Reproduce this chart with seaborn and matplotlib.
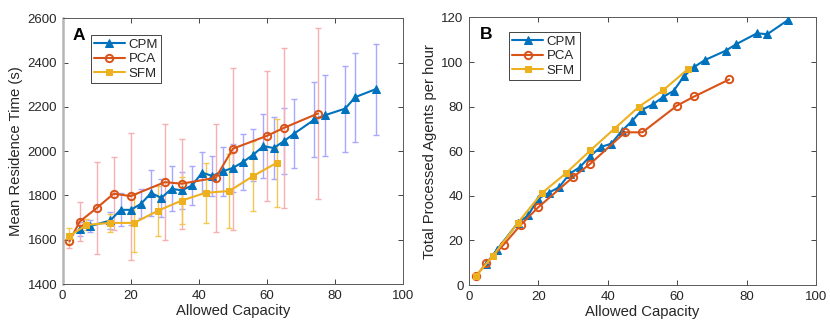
import numpy as np
import pandas as pd
import matplotlib
matplotlib.use("Agg")
import matplotlib.pyplot as plt
import seaborn as sns

# ---------------- data ----------------
cpm_x = [5, 8, 14, 17, 20, 23, 26, 29, 32, 35, 38, 41, 44, 47, 50, 53, 56, 59, 62, 65, 68, 74, 77, 83, 86, 92]
cpm_time = [1649, 1661, 1687, 1735, 1735, 1762, 1811, 1789, 1830, 1823, 1845, 1903, 1888, 1909, 1924,
            1951, 1984, 2023, 2014, 2045, 2079, 2143, 2162, 2192, 2244, 2280]
cpm_err = [30, 27, 40, 75, 70, 65, 104, 85, 102, 85, 88, 95, 92, 110, 108, 128, 118, 143, 140, 149,
           157, 170, 182, 194, 201, 205]
cpm_rate = [9.6, 15.7, 27.7, 31.2, 38.7, 41.4, 43.9, 49.9, 52.9, 57.9, 61.9, 63.4, 69.0, 73.6, 78.7,
            81.0, 84.4, 87.1, 93.7, 97.9, 100.9, 105.1, 108.0, 112.9, 112.5, 118.9]

pca_x = [2, 5, 10, 15, 20, 30, 35, 45, 50, 60, 65, 75]
pca_time = [1593, 1682, 1743, 1808, 1797, 1860, 1853, 1880, 2011, 2069, 2105, 2170]
pca_err = [32, 88, 206, 165, 287, 261, 204, 243, 366, 292, 360, 388]
pca_rate = [4.0, 9.7, 18.1, 27.1, 34.9, 48.4, 54.4, 68.5, 68.5, 80.5, 84.6, 92.2]

sfm_x = [2, 7, 14, 21, 28, 35, 42, 49, 56, 63]
sfm_time = [1617, 1667, 1676, 1676, 1731, 1777, 1812, 1820, 1888, 1948]
sfm_err = [38, 25, 40, 132, 112, 106, 136, 166, 157, 199]
sfm_rate = [4.0, 13.2, 27.7, 41.2, 50.2, 60.4, 70.2, 80.0, 87.4, 96.7]

series_names = ["CPM", "PCA", "SFM"]
xticks = [0, 20, 40, 60, 80, 100]
yticks_a = [1400, 1600, 1800, 2000, 2200, 2400, 2600]
yticks_b = [0, 20, 40, 60, 80, 100, 120]

# ---------------- style ----------------
sns.set_theme(style="ticks")
plt.rcParams["font.family"] = ["Liberation Sans", "DejaVu Sans"]
plt.rcParams["axes.edgecolor"] = "#262626"
plt.rcParams["xtick.color"] = "#262626"
plt.rcParams["ytick.color"] = "#262626"

c_cpm = "#0072BD"
c_pca = "#D95319"
c_sfm = "#EDB120"
e_cpm = "#a8a8ff"
e_pca = "#f7b0b0"
e_sfm = "#f2c850"

fig = plt.figure(figsize=(8.3, 3.33), dpi=100)
axA = fig.add_axes([0.0755, 0.1471, 0.410, 0.798])
axB = fig.add_axes([0.565, 0.1441, 0.418, 0.8034])


def style_axes(ax):
    ax.tick_params(direction="in", length=3.5, width=0.6, labelsize=9.5,
                   top=True, right=True, pad=4)
    for s in ax.spines.values():
        s.set_visible(True)
        s.set_linewidth(0.7)
        s.set_color("#5a5a5a")
    ax.set_xlabel("Allowed Capacity", fontsize=10.7, color="#262626", labelpad=2)


def draw_lines(ax, ycpm, ypca, ysfm):
    sns.lineplot(x=cpm_x, y=ycpm, ax=ax, color=c_cpm, marker="^", markersize=5.8,
                 markeredgecolor=c_cpm, markerfacecolor=c_cpm, linewidth=1.5,
                 label=series_names[0], zorder=3)
    sns.lineplot(x=pca_x, y=ypca, ax=ax, color=c_pca, marker="o", markersize=5.3,
                 markeredgecolor=c_pca, markerfacecolor="none", markeredgewidth=1.4,
                 linewidth=1.5, label=series_names[1], zorder=3)
    sns.lineplot(x=sfm_x, y=ysfm, ax=ax, color=c_sfm, marker="s", markersize=4.2,
                 markeredgecolor=c_sfm, markerfacecolor=c_sfm, linewidth=1.5,
                 label=series_names[2], zorder=3)


def add_legend(ax, anchor):
    leg = ax.legend(loc="upper left", bbox_to_anchor=anchor, fontsize=9.5,
                    frameon=True, fancybox=False, borderpad=0.25, labelspacing=0.18,
                    handlelength=2.3, handletextpad=0.3, borderaxespad=0.0)
    leg.get_frame().set_edgecolor("#262626")
    leg.get_frame().set_linewidth(0.6)
    leg.get_frame().set_alpha(1.0)


# ---------------- panel A ----------------
ax = axA
ax.errorbar(cpm_x, cpm_time, yerr=cpm_err, fmt="none", ecolor=e_cpm, elinewidth=1.0,
            capsize=2.5, capthick=1.0, zorder=1)
ax.errorbar(pca_x, pca_time, yerr=pca_err, fmt="none", ecolor=e_pca, elinewidth=1.0,
            capsize=2.5, capthick=1.0, zorder=1)
ax.errorbar(sfm_x, sfm_time, yerr=sfm_err, fmt="none", ecolor=e_sfm, elinewidth=1.0,
            capsize=2.5, capthick=1.0, zorder=1)
draw_lines(ax, cpm_time, pca_time, sfm_time)

ax.set_xlim(0, 100)
ax.set_ylim(1400, 2600)
ax.set_xticks(xticks)
ax.set_yticks(yticks_a)
ax.set_ylabel("Mean Residence Time (s)", fontsize=10.7, color="#262626", labelpad=3)
style_axes(ax)
ax.spines["left"].set_color("#b5b5b5")
ax.spines["left"].set_linewidth(1.8)
ax.text(0.028, 0.965, "A", transform=ax.transAxes, fontsize=12.5, fontweight="bold",
        va="top", ha="left", color="black")
add_legend(ax, (0.083, 0.936))

# ---------------- panel B ----------------
ax = axB
draw_lines(ax, cpm_rate, pca_rate, sfm_rate)
ax.set_xlim(0, 100)
ax.set_ylim(0, 120)
ax.set_xticks(xticks)
ax.set_yticks(yticks_b)
ax.set_ylabel("Total Processed Agents per hour", fontsize=10.7, color="#262626", labelpad=3)
style_axes(ax)
ax.text(0.032, 0.965, "B", transform=ax.transAxes, fontsize=12.5, fontweight="bold",
        va="top", ha="left", color="black")
add_legend(ax, (0.116, 0.945))

fig.savefig("out.png", dpi=100, facecolor="white")
